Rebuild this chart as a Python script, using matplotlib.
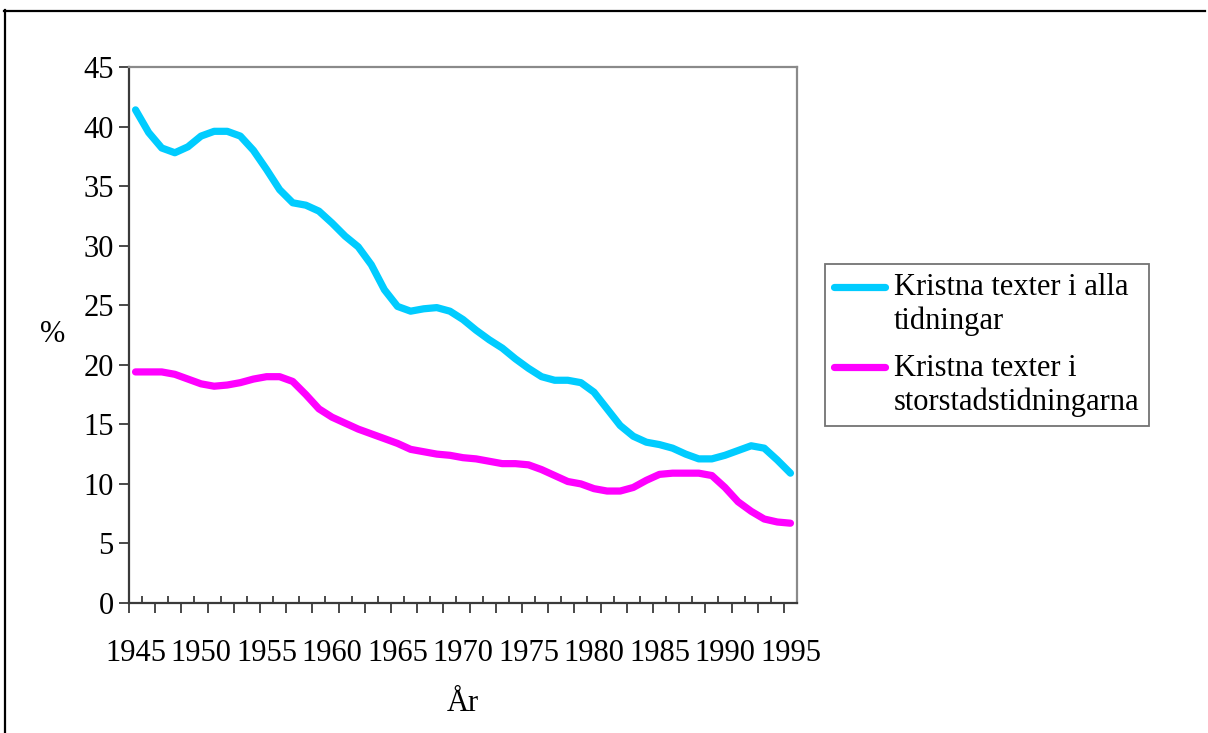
import matplotlib
matplotlib.use("Agg")
import matplotlib.pyplot as plt
from matplotlib.lines import Line2D
from matplotlib.legend_handler import HandlerLine2D
import numpy as np

years = list(range(1945, 1996))
alla = [41.4, 39.5, 38.2, 37.8, 38.3, 39.2, 39.6, 39.6, 39.2, 38.0,
        36.4, 34.7, 33.6, 33.4, 32.9, 31.9, 30.8, 29.9, 28.4, 26.3,
        24.9, 24.5, 24.7, 24.8, 24.5, 23.8, 22.9, 22.1, 21.4, 20.5,
        19.7, 19.0, 18.7, 18.7, 18.5, 17.7, 16.3, 14.9, 14.0, 13.5,
        13.3, 13.0, 12.5, 12.1, 12.1, 12.4, 12.8, 13.2, 13.0, 12.0,
        10.9]
storstad = [19.4, 19.4, 19.4, 19.2, 18.8, 18.4, 18.2, 18.3, 18.5, 18.8,
            19.0, 19.0, 18.6, 17.5, 16.3, 15.6, 15.1, 14.6, 14.2, 13.8,
            13.4, 12.9, 12.7, 12.5, 12.4, 12.2, 12.1, 11.9, 11.7, 11.7,
            11.6, 11.2, 10.7, 10.2, 10.0, 9.6, 9.4, 9.4, 9.7, 10.3,
            10.8, 10.9, 10.9, 10.9, 10.7, 9.7, 8.5, 7.7, 7.05, 6.8,
            6.7]
labels = ["Kristna texter i alla\ntidningar", "Kristna texter i\nstorstadstidningarna"]
colors = ["#00CCFF", "#FF00FF"]
year_labels = list(range(1945, 1996, 5))
yticks = list(range(0, 50, 5))

W, H = 1208, 733
fig = plt.figure(figsize=(W / 100, H / 100), dpi=100)
fig.patch.set_facecolor("white")
plt.rcParams["font.family"] = ["Liberation Serif", "DejaVu Serif"]

ax = fig.add_axes([129 / W, 1 - 603 / H, (797 - 129) / W, (603 - 67) / H])

for vals, lab, col in zip([alla, storstad], labels, colors):
    ax.plot(years, vals, color=col, lw=5.2, label=lab,
            solid_capstyle="round", solid_joinstyle="round")

ax.set_xlim(years[0] - 0.5, years[-1] + 0.5)
ax.set_ylim(0, 45)

for s in ["left", "bottom"]:
    ax.spines[s].set_color("#3a3a3a")
    ax.spines[s].set_linewidth(1.6)
for s in ["top", "right"]:
    ax.spines[s].set_color("#8a8a8a")
    ax.spines[s].set_linewidth(1.6)

ax.set_yticks(yticks)
ax.tick_params(axis="y", direction="out", length=7, width=1.3, color="#3a3a3a",
               labelsize=22, pad=4)

ax.set_xticks(year_labels)
ax.set_xticklabels([str(y) for y in year_labels])
ax.tick_params(axis="x", which="major", length=0, labelsize=22, pad=26)
bounds = np.arange(years[0] - 0.5, years[-1] + 0.5, 1.0)
ax.set_xticks(bounds[0::2], minor=True)
ax.tick_params(axis="x", which="minor", direction="out", length=7.5, width=1.3,
               color="#3a3a3a")
sec = ax.secondary_xaxis("bottom")
sec.set_xticks(bounds[1::2])
sec.tick_params(axis="x", direction="in", length=5, width=1.3, color="#3a3a3a",
                labelbottom=False)
sec.spines["bottom"].set_visible(False)

ax.set_xlabel("År", fontsize=22)
ax.xaxis.set_label_coords(0.5, -0.16)
ax.set_ylabel("%", fontsize=22, rotation=0, va="center", ha="center")
ax.yaxis.set_label_coords(-0.115, 0.5)

LEG_FS = 22
LEG_LS = 1.2


class TopLineHandler(HandlerLine2D):
    def create_artists(self, legend, orig_handle, xdescent, ydescent,
                       width, height, fontsize, trans):
        arts = super().create_artists(legend, orig_handle, xdescent, ydescent,
                                      width, height, fontsize, trans)
        shift = 0.5 * fontsize * LEG_LS
        for a in arts:
            if isinstance(a, Line2D):
                a.set_ydata(np.asarray(a.get_ydata()) + shift)
        return arts


leg = ax.legend(loc="upper left", bbox_to_anchor=(825 / W, 1 - 264 / H),
                bbox_transform=fig.transFigure, borderaxespad=0,
                fontsize=LEG_FS, frameon=True, fancybox=False,
                handlelength=1.65, handletextpad=0.3, borderpad=0.3,
                labelspacing=0.58,
                handler_map={Line2D: TopLineHandler()})
leg.get_frame().set_edgecolor("#505050")
leg.get_frame().set_linewidth(1.3)
for t in leg.get_texts():
    t.set_linespacing(LEG_LS)

fig.add_artist(Line2D([4 / W, 1205 / W], [1 - 11 / H, 1 - 11 / H],
                      transform=fig.transFigure, color="black", lw=1.6))
fig.add_artist(Line2D([5 / W, 5 / W], [1 - 10 / H, 0],
                      transform=fig.transFigure, color="black", lw=1.6))

fig.savefig("out.png", dpi=100)
